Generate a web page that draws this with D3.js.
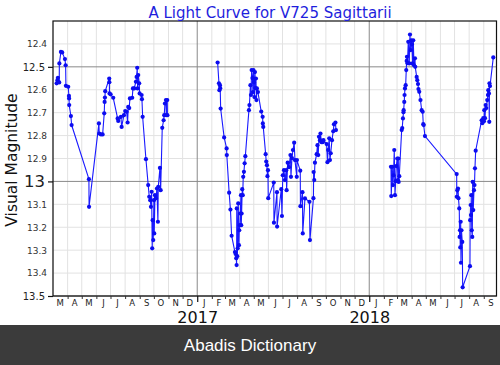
<!DOCTYPE html>
<html><head><meta charset="utf-8">
<script src="https://cdn.jsdelivr.net/npm/d3@7"></script>
<style>body{margin:0;background:#fff}svg{display:block}</style>
</head><body>
<svg id="c" width="500" height="365"></svg>
<script>
// Julian Date minus 2457000
const jd = [
456.2,457.9,458.9,461.7,462.0,465.3,468.0,473.8,475.3,475.9,480.8,482.3,482.6,482.9,486.5,488.0,524.7,525.0,545.9,546.6,550.2,553.8,557.2,558.0,558.7,559.3,567.8,568.1,568.4,570.7,576.3,585.6,586.9,592.6,594.1,599.0,601.7,604.7,606.8,608.1,610.2,611.7,616.6,618.1,620.8,624.4,625.9,627.2,628.0,629.3,631.4,632.3,636.5,637.2,638.7,645.7,650.5,652.7,654.8,656.3,657.8,659.0,659.9,661.2,662.6,663.3,664.8,666.9,669.0,671.1,671.8,675.4,676.9,680.3,683.2,684.5,686.0,688.1,688.7,690.9,691.3,
797.8,800.6,801.6,802.7,803.3,804.2,811.6,816.9,817.3,822.2,825.0,827.5,834.5,836.0,837.3,838.1,838.4,839.4,840.3,841.5,843.0,843.7,845.1,845.8,847.3,847.9,848.7,850.0,851.1,852.1,853.6,855.1,856.6,864.2,865.3,867.4,868.5,870.0,871.7,872.7,873.8,874.8,875.9,877.0,878.0,879.1,880.2,881.2,883.3,890.3,893.3,893.7,894.6,899.7,900.9,902.4,903.5,904.6,905.2,916.9,917.3,923.7,924.0,932.8,934.3,936.0,938.5,940.6,943.4,944.2,946.4,949.1,952.3,953.4,955.5,957.6,960.2,961.9,965.7,966.1,973.1,973.5,977.8,978.4,983.1,992.6,993.7,1001.1,1001.5,1002.8,1004.3,1007.9,1009.6,1011.3,1012.8,1014.9,1016.0,1018.1,1020.9,1022.3,1029.1,1030.8,1032.3,1034.6,1036.1,1037.8,1040.4,1043.1,1044.6,1047.8,1048.9,
1165.6,1166.2,1168.3,1169.8,1170.9,1172.6,1174.1,1175.6,1176.8,1178.9,1180.4,1181.1,1181.9,1183.2,1188.3,1189.5,1191.0,1192.1,1192.5,1193.8,1194.4,1195.3,1196.8,1198.0,1198.9,1199.5,1200.6,1202.3,1204.4,1205.9,1207.4,1208.7,1210.1,1211.6,1212.9,1214.4,1216.5,1217.1,1220.1,1221.4,1222.9,1223.9,1225.6,1228.2,1230.7,1232.8,1234.1,1235.0,1237.7,1305.0,1305.2,1306.3,1307.8,1308.8,1310.5,1311.2,1312.0,1312.6,1313.5,1314.1,1315.2,1316.9,1317.7,1333.2,1333.6,1334.7,1335.3,1336.0,1337.0,1338.1,1339.0,1340.2,1341.7,1342.8,1343.8,1345.3,1358.0,1359.3,1361.4,1362.9,1363.6,1365.1,1366.5,1367.8,1369.9,1371.4,1372.1,1373.5,1374.2,1374.6,1375.7,1382.7
];
const mag = [
12.572,12.558,12.548,12.568,12.485,12.435,12.437,12.466,12.493,12.583,12.587,12.627,12.638,12.667,12.715,12.754,12.990,13.111,12.747,12.791,12.795,12.795,12.703,12.653,12.634,12.606,12.551,12.567,12.616,12.620,12.635,12.725,12.736,12.718,12.762,12.711,12.693,12.696,12.743,12.675,12.680,12.638,12.635,12.594,12.594,12.565,12.544,12.504,12.594,12.536,12.572,12.616,12.623,12.641,12.718,12.903,13.016,13.067,13.082,13.111,13.045,13.292,13.169,13.256,13.082,13.227,13.060,13.073,13.031,13.176,13.024,12.941,13.038,12.766,12.733,12.711,12.660,12.645,12.711,12.645,12.711,
12.481,12.572,12.602,12.580,12.593,12.682,12.808,12.856,12.885,13.049,13.123,13.237,13.308,13.317,13.335,13.365,13.118,13.326,13.292,13.096,13.278,13.213,13.191,13.140,13.060,13.191,13.140,13.034,13.060,12.980,12.958,12.921,12.890,12.689,12.667,12.580,12.623,12.514,12.549,12.610,12.514,12.567,12.632,12.523,12.593,12.551,12.645,12.594,12.610,12.695,12.718,12.747,12.762,12.881,12.913,12.929,12.977,12.951,13.073,13.005,13.180,13.047,13.197,13.034,13.151,12.973,12.951,12.994,12.951,13.038,12.918,12.938,12.885,12.980,12.898,12.863,12.831,12.907,12.980,12.907,12.953,13.108,13.047,13.227,13.074,13.089,13.256,13.073,12.959,12.994,12.918,12.881,12.842,12.885,12.805,12.820,12.791,12.829,12.829,12.820,12.837,12.916,12.863,12.812,12.907,12.877,12.820,12.781,12.751,12.743,12.776,
12.936,13.064,12.936,13.016,12.973,12.863,13.060,12.999,12.933,12.900,12.994,12.900,13.002,12.977,12.776,12.767,12.725,12.698,12.689,12.653,12.623,12.594,12.580,12.514,12.474,12.456,12.484,12.391,12.485,12.359,12.427,12.384,12.401,12.485,12.384,12.493,12.463,12.500,12.544,12.558,12.575,12.597,12.609,12.645,12.689,12.696,12.750,12.754,12.802,12.968,13.067,13.038,13.031,13.073,13.118,13.242,13.213,13.288,13.176,13.355,13.213,13.264,13.462,13.370,13.169,13.103,13.147,13.060,13.213,13.242,13.002,13.125,13.038,13.016,12.943,12.866,12.733,12.746,12.724,12.737,12.689,12.724,12.667,12.680,12.645,12.623,12.602,12.616,12.740,12.572,12.584,12.459
];
const monthLetters = ["J","F","M","A","M","J","J","A","S","O","N","D"];
const yearLabels = ["2017","2018"];
const yMajor = [12.5, 13, 13.5];
const yMinor = [12.4, 12.6, 12.7, 12.8, 12.9, 13.1, 13.2, 13.3, 13.4];
const xStartJD = 448.5, xEndJD = 1389.5;
const titleText = "A Light Curve for V725 Sagittarii";
const yLabel = "Visual Magnitude";
const banner = "Abadis Dictionary";

const toDate = j => new Date((j + 2457000 - 2440587.5) * 86400000);
const L = 53, R = 496.5, T = 21, B = 296;
const svg = d3.select("#c");
const x = d3.scaleUtc().domain([toDate(xStartJD), toDate(xEndJD)]).range([L, R]);
const y = d3.scaleLinear().domain([12.3, 13.5]).range([T, B]);
const font = "DejaVu Sans, sans-serif";

const months = d3.utcMonth.range(toDate(xStartJD), toDate(xEndJD));
const years = d3.utcYear.range(toDate(xStartJD), toDate(xEndJD)).filter(d => d > toDate(xStartJD));
const mids = months.map(m => new Date(Date.UTC(m.getUTCFullYear(), m.getUTCMonth(), 15))).filter(d => d < toDate(xEndJD));

const g = svg.append("g");
g.selectAll(".vmin").data(months.filter(m => m.getUTCMonth() !== 0)).join("line")
  .attr("x1", d => x(d)).attr("x2", d => x(d)).attr("y1", T).attr("y2", B)
  .attr("stroke", "#e2e2e2").attr("stroke-width", 1);
g.selectAll(".hmin").data(yMinor).join("line")
  .attr("x1", L).attr("x2", R).attr("y1", d => y(d)).attr("y2", d => y(d))
  .attr("stroke", "#e2e2e2").attr("stroke-width", 1);
g.selectAll(".vmaj").data(years).join("line")
  .attr("x1", d => x(d)).attr("x2", d => x(d)).attr("y1", T).attr("y2", B)
  .attr("stroke", "#8a8a8a").attr("stroke-width", 1);
g.selectAll(".hmaj").data(yMajor).join("line")
  .attr("x1", L).attr("x2", R).attr("y1", d => y(d)).attr("y2", d => y(d))
  .attr("stroke", "#8a8a8a").attr("stroke-width", 1);

const pts = jd.map((j, i) => ({t: toDate(j), j, m: mag[i]}));
const segs = [];
pts.forEach((p, i) => {
  if (i === 0 || p.j - pts[i-1].j > 90) segs.push([]);
  segs[segs.length-1].push(p);
});
const line = d3.line().x(d => x(d.t)).y(d => y(d.m));
svg.append("g").selectAll("path").data(segs).join("path")
  .attr("d", line).attr("fill", "none").attr("stroke", "#1a1aff").attr("stroke-width", 1.1);
svg.append("g").selectAll("circle").data(pts).join("circle")
  .attr("cx", d => x(d.t)).attr("cy", d => y(d.m)).attr("r", 2.1).attr("fill", "#0c0cf0");

svg.append("rect").attr("x", L).attr("y", T).attr("width", R - L).attr("height", B - T)
  .attr("fill", "none").attr("stroke", "#111").attr("stroke-width", 1.2);

const yAxMaj = svg.append("g").attr("transform", `translate(${L},0)`)
  .call(d3.axisLeft(y).tickValues(yMajor).tickSize(5).tickPadding(3).tickFormat(d => d === 13 ? "13" : d3.format(".1f")(d)));
yAxMaj.select(".domain").remove();
yAxMaj.selectAll("line").attr("stroke", "#111").attr("stroke-width", 1.2);
yAxMaj.selectAll("text").attr("font-family", font).attr("fill", "#222")
  .attr("font-size", d => d === 13 ? 16.5 : 10);
const yAxMin = svg.append("g").attr("transform", `translate(${L},0)`)
  .call(d3.axisLeft(y).tickValues(yMinor).tickSize(0).tickPadding(6).tickFormat(d3.format(".1f")));
yAxMin.select(".domain").remove();
yAxMin.selectAll("text").attr("font-family", font).attr("fill", "#333").attr("font-size", 9);

const xm = svg.append("g").attr("transform", `translate(0,${B})`)
  .call(d3.axisBottom(x).tickValues(months.filter(m => m.getUTCMonth() !== 0 && m > toDate(xStartJD))).tickSize(3).tickFormat(""));
xm.select(".domain").remove();
xm.selectAll("line").attr("stroke", "#333");
const xl = svg.append("g").attr("transform", `translate(0,${B})`)
  .call(d3.axisBottom(x).tickValues(mids).tickSize(0).tickPadding(4).tickFormat(d => monthLetters[d.getUTCMonth()]));
xl.select(".domain").remove();
xl.selectAll("text").attr("font-family", font).attr("font-size", 8.5).attr("fill", "#222");
const xy = svg.append("g").attr("transform", `translate(0,${B})`)
  .call(d3.axisBottom(x).tickValues(years).tickSize(6).tickPadding(10).tickFormat((d, i) => yearLabels[i]));
xy.select(".domain").remove();
xy.selectAll("line").attr("stroke", "#111").attr("stroke-width", 1.2);
xy.selectAll("text").attr("font-family", font).attr("font-size", 16).attr("fill", "#111");

svg.append("text").attr("x", 270).attr("y", 18).attr("text-anchor", "middle")
  .attr("font-family", font).attr("font-size", 15).attr("fill", "#1f1fdd").text(titleText);
svg.append("text").attr("transform", "translate(17,160) rotate(-90)").attr("text-anchor", "middle")
  .attr("font-family", font).attr("font-size", 15.5).attr("fill", "#111").text(yLabel);

svg.append("rect").attr("x", 0).attr("y", 325).attr("width", 500).attr("height", 40).attr("fill", "#3b3b3b");
svg.append("text").attr("x", 250).attr("y", 351).attr("text-anchor", "middle")
  .attr("font-family", "Liberation Sans, Arial, sans-serif").attr("font-size", 17).attr("fill", "#fff").text(banner);
</script>
</body></html>
